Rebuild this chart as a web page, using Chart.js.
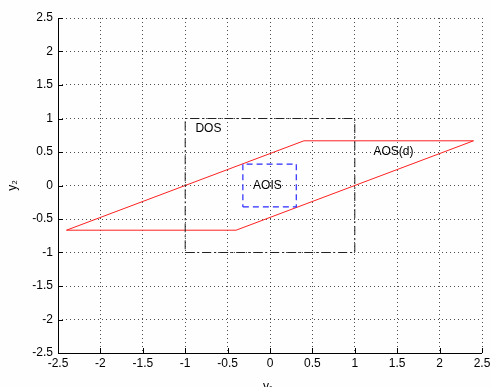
<!DOCTYPE html>
<html>
<head>
<meta charset="utf-8">
<script src="https://cdn.jsdelivr.net/npm/chart.js@4.4.1/dist/chart.umd.min.js"></script>
<style>
  html, body { margin: 0; padding: 0; background: #fefefe; }
  #wrap { width: 491px; height: 387px; position: relative; }
</style>
</head>
<body>
<div id="wrap"><canvas id="c"></canvas></div>
<script>
// AOS(d) parallelogram
const aosX = [-2.4, -0.4, 2.4, 0.4, -2.4];
const aosY = [-0.667, -0.667, 0.667, 0.667, -0.667];
// DOS square
const dosX = [-1, 1, 1, -1, -1];
const dosY = [-1, -1, 1, 1, -1];
// AOIS square
const aoisX = [-0.32, 0.31, 0.31, -0.32, -0.32];
const aoisY = [-0.32, -0.32, 0.32, 0.32, -0.32];

const tickValues = [-2.5, -2, -1.5, -1, -0.5, 0, 0.5, 1, 1.5, 2, 2.5];

// text labels: [text, x, y]
const notes = [
  ['DOS', -0.88, 0.85],
  ['AOIS', -0.2, 0.0],
  ['AOS(d)', 1.22, 0.5],
];

const toPts = (xs, ys) => xs.map((x, i) => ({ x: x, y: ys[i] }));
const FONT = '"Liberation Sans", Arial, sans-serif';

const extras = {
  id: 'extras',
  beforeDraw(chart) {
    const c = chart.ctx;
    c.save();
    c.fillStyle = '#fefefe';
    c.fillRect(0, 0, chart.width, chart.height);
    c.restore();
  },
  afterDraw(chart) {
    const c = chart.ctx;
    const a = chart.chartArea;
    const xs = chart.scales.x, ys = chart.scales.y;
    c.save();
    // axes lines (left, bottom)
    c.strokeStyle = '#000';
    c.lineWidth = 1;
    c.beginPath();
    c.moveTo(a.left + 0.5, a.top);
    c.lineTo(a.left + 0.5, a.bottom + 0.5);
    c.lineTo(a.right, a.bottom + 0.5);
    c.stroke();
    // inward ticks
    tickValues.forEach(v => {
      const px = Math.round(xs.getPixelForValue(v)) + 0.5;
      c.beginPath(); c.moveTo(px, a.bottom); c.lineTo(px, a.bottom - 5); c.stroke();
      const py = Math.round(ys.getPixelForValue(v)) + 0.5;
      c.beginPath(); c.moveTo(a.left, py); c.lineTo(a.left + 5, py); c.stroke();
    });
    // annotations
    c.fillStyle = '#000';
    c.font = '12px ' + FONT;
    c.textBaseline = 'middle';
    c.textAlign = 'left';
    notes.forEach(n => {
      c.fillText(n[0], xs.getPixelForValue(n[1]), ys.getPixelForValue(n[2]));
    });
    // axis titles
    c.font = '12px ' + FONT;
    c.textAlign = 'center';
    c.fillText('y\u2081', 268, 387);
    c.translate(13, (a.top + a.bottom) / 2);
    c.rotate(-Math.PI / 2);
    c.fillText('y\u2082', 0, 0);
    c.restore();
  }
};

new Chart(document.getElementById('c'), {
  type: 'scatter',
  data: {
    datasets: [
      {
        label: 'DOS',
        data: toPts(dosX, dosY),
        showLine: true,
        borderColor: '#222',
        borderWidth: 1,
        borderDash: [9, 3, 2, 3],
        pointRadius: 0,
        fill: false,
        tension: 0,
      },
      {
        label: 'AOIS',
        data: toPts(aoisX, aoisY),
        showLine: true,
        borderColor: '#2a2aff',
        borderWidth: 1.2,
        borderDash: [6, 4],
        pointRadius: 0,
        fill: false,
        tension: 0,
      },
      {
        label: 'AOS(d)',
        data: toPts(aosX, aosY),
        showLine: true,
        borderColor: '#ff2020',
        borderWidth: 1,
        pointRadius: 0,
        fill: false,
        tension: 0,
      },
    ]
  },
  options: {
    responsive: true,
    maintainAspectRatio: false,
    animation: false,
    events: [],
    layout: { padding: { top: 18, right: 9, left: 0, bottom: 0 } },
    plugins: { legend: { display: false }, tooltip: { enabled: false } },
    scales: {
      x: {
        type: 'linear',
        min: -2.5, max: 2.5,
        afterBuildTicks: s => { s.ticks = tickValues.map(v => ({ value: v })); },
        afterFit: s => { s.height = 34; s.paddingLeft = 0; s.paddingRight = 0; },
        grid: { color: 'rgba(0,0,0,0.7)', drawTicks: false, lineWidth: 1 },
        border: { display: false, dash: [1, 3] },
        ticks: {
          color: '#000', padding: 3,
          font: { family: FONT, size: 12 },
          callback: v => String(v),
          maxRotation: 0, autoSkip: false,
        },
      },
      y: {
        type: 'linear',
        min: -2.5, max: 2.5,
        afterBuildTicks: s => { s.ticks = tickValues.map(v => ({ value: v })); },
        afterFit: s => { s.width = 58; },
        grid: { color: 'rgba(0,0,0,0.7)', drawTicks: false, lineWidth: 1 },
        border: { display: false, dash: [1, 3] },
        ticks: {
          color: '#000', padding: 5,
          font: { family: FONT, size: 12 },
          callback: v => String(v),
          autoSkip: false,
        },
      },
    }
  },
  plugins: [extras]
});
</script>
</body>
</html>
